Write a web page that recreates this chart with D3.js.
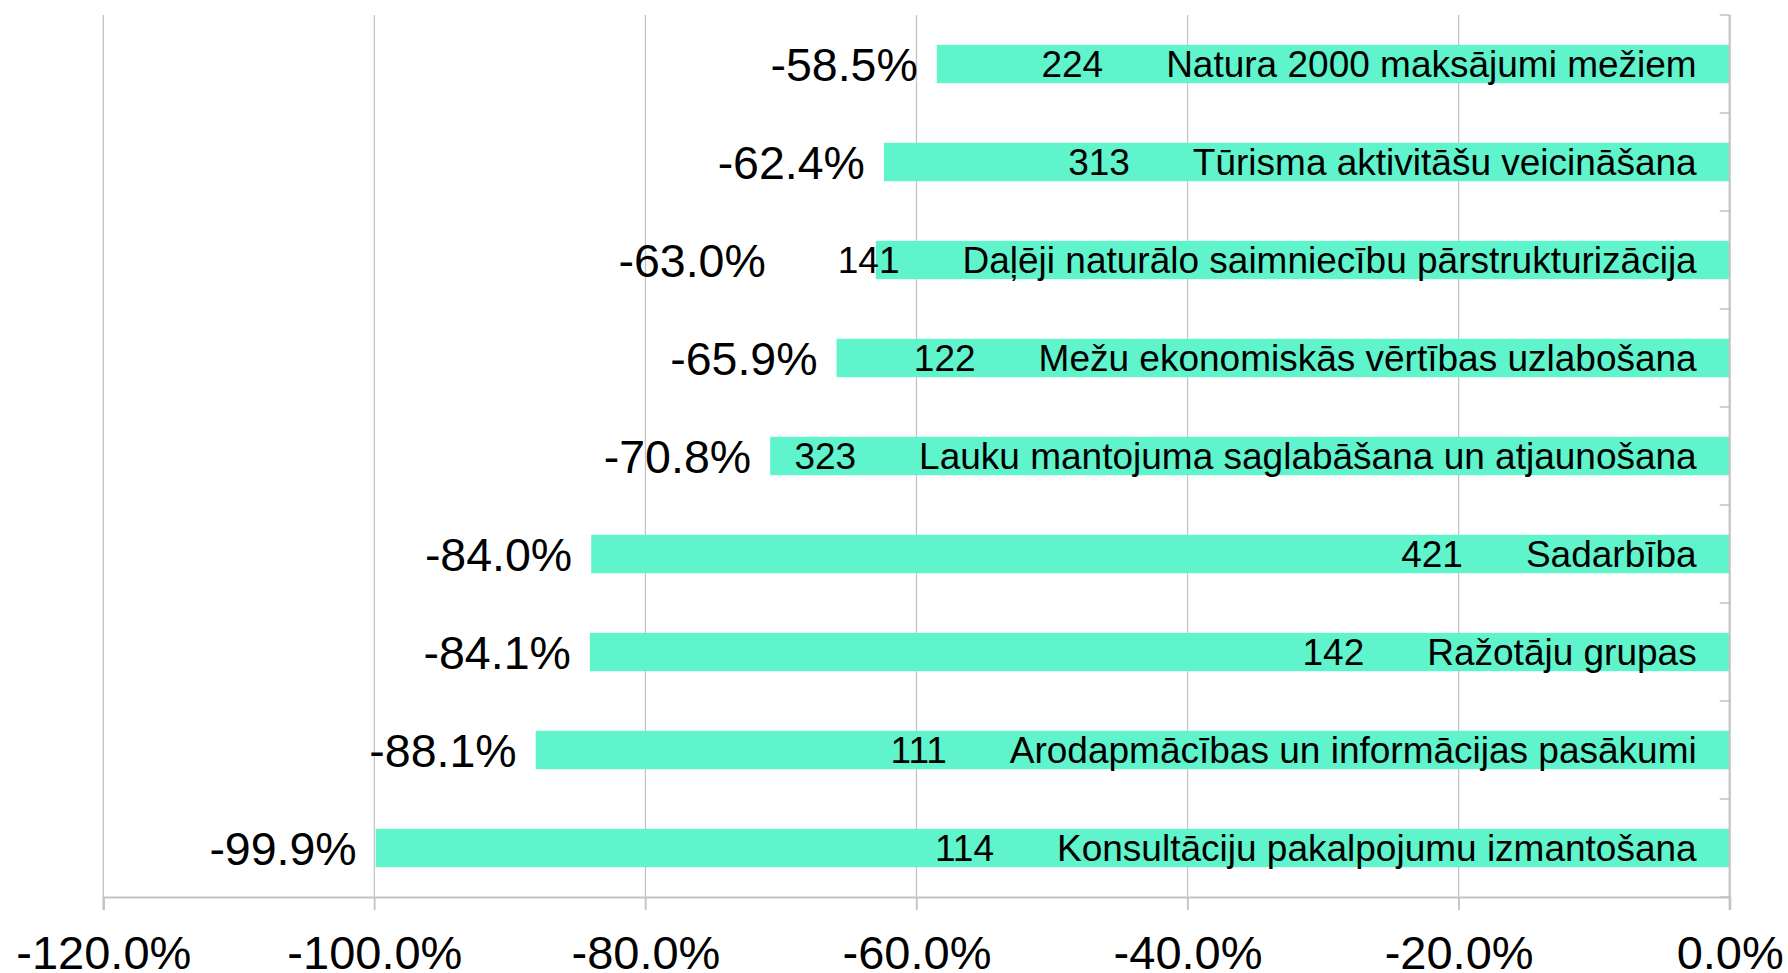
<!DOCTYPE html>
<html>
<head>
<meta charset="utf-8">
<script src="https://cdn.jsdelivr.net/npm/d3@7"></script>
<style>
  html, body { margin: 0; padding: 0; background: #fff; }
  svg { display: block; font-family: "Liberation Sans", Arial, sans-serif; }
</style>
</head>
<body>
<svg id="chart" width="1788" height="973"></svg>
<script>
var categories = [
  "Natura 2000 maksājumi mežiem",
  "Tūrisma aktivitāšu veicināšana",
  "Daļēji naturālo saimniecību pārstrukturizācija",
  "Mežu ekonomiskās vērtības uzlabošana",
  "Lauku mantojuma saglabāšana un atjaunošana",
  "Sadarbība",
  "Ražotāju grupas",
  "Arodapmācības un informācijas pasākumi",
  "Konsultāciju pakalpojumu izmantošana"
];
var codes = ["224", "313", "141", "122", "323", "421", "142", "111", "114"];
var changes = [-58.5, -62.4, -63.0, -65.9, -70.8, -84.0, -84.1, -88.1, -99.9];
var xTicks = [-120, -100, -80, -60, -40, -20, 0];

var barColor = "#5ff4cb";
var gridColor = "#c3c3c3";

// "top" is taken by window.top, so keep plot edges in their own names
var plotLeft = 103.3, plotRight = 1729.7, plotTop = 15, plotBottom = 897;

var locale = d3.formatLocale({ decimal: ".", thousands: ",", grouping: [3], currency: ["", ""], minus: "-" });
var pct = function(d) { return locale.format(".1f")(d) + "%"; };

var svg = d3.select("#chart");

var x = d3.scaleLinear().domain([-120, 0]).range([plotLeft, plotRight]);
var y = d3.scaleBand().domain(categories).range([plotTop, plotBottom])
  .paddingInner(0.608).paddingOuter(0.304);

// vertical gridlines, running a bit below the axis as ticks
svg.append("g")
  .selectAll("line")
  .data(xTicks.slice(0, -1))
  .enter().append("line")
  .attr("x1", function(d) { return x(d); })
  .attr("x2", function(d) { return x(d); })
  .attr("y1", plotTop)
  .attr("y2", plotBottom + 13)
  .attr("stroke", gridColor)
  .attr("stroke-width", 1.3);

// bars
svg.append("g")
  .selectAll("rect")
  .data(categories)
  .enter().append("rect")
  .attr("x", function(d, i) { return x(changes[i]); })
  .attr("y", function(d) { return y(d); })
  .attr("width", function(d, i) { return x(0) - x(changes[i]); })
  .attr("height", y.bandwidth())
  .attr("fill", barColor);

// bottom axis
var xAxis = d3.axisBottom(x)
  .tickValues(xTicks)
  .tickSize(13)
  .tickFormat(pct);

var gx = svg.append("g")
  .attr("transform", "translate(0," + plotBottom + ")")
  .call(xAxis);
gx.select(".domain").attr("stroke", gridColor).attr("stroke-width", 2.2);
gx.selectAll(".tick line").attr("stroke", gridColor).attr("stroke-width", 1.3);
gx.selectAll(".tick text")
  .attr("fill", "#000")
  .attr("font-size", "47px")
  .attr("y", 72)
  .attr("dy", null)
  .style("font-family", "'Liberation Sans', Arial, sans-serif");

// right axis (categories), ticks on boundaries, no labels
var bounds = categories.map(function(d) { return y(d) - y.step() * y.paddingInner() / 2; });
bounds.push(plotBottom);
svg.append("line")
  .attr("x1", plotRight).attr("x2", plotRight)
  .attr("y1", plotTop).attr("y2", plotBottom + 13)
  .attr("stroke", gridColor)
  .attr("stroke-width", 2.2);
svg.append("g")
  .selectAll("line")
  .data(bounds)
  .enter().append("line")
  .attr("x1", plotRight - 10).attr("x2", plotRight)
  .attr("y1", function(d) { return d; })
  .attr("y2", function(d) { return d; })
  .attr("stroke", gridColor)
  .attr("stroke-width", 1.5);

// labels inside bars: category name right aligned, code number before it
var labels = svg.append("g");
categories.forEach(function(name, i) {
  var cy = y(name) + y.bandwidth() / 2;
  var nameText = labels.append("text")
    .attr("x", plotRight - 33)
    .attr("y", cy + 12.8)
    .attr("text-anchor", "end")
    .attr("font-size", "37px")
    .attr("fill", "#000")
    .text(name);
  var nameStart = plotRight - 33 - nameText.node().getComputedTextLength();

  var codeText = labels.append("text")
    .attr("x", nameStart - 63)
    .attr("y", cy + 12.8)
    .attr("text-anchor", "end")
    .attr("font-size", "37px")
    .attr("fill", "#000")
    .text(codes[i]);
  var codeStart = nameStart - 63 - codeText.node().getComputedTextLength();

  // percentage label left of the bar, pushed further out if the code sticks out
  var barStart = x(changes[i]);
  var pctEnd = codeStart < barStart ? codeStart - 72 : barStart - 19;
  labels.append("text")
    .attr("x", pctEnd)
    .attr("y", cy + 17)
    .attr("text-anchor", "end")
    .attr("font-size", "46.5px")
    .attr("fill", "#000")
    .text(pct(changes[i]));
});
</script>
</body>
</html>
